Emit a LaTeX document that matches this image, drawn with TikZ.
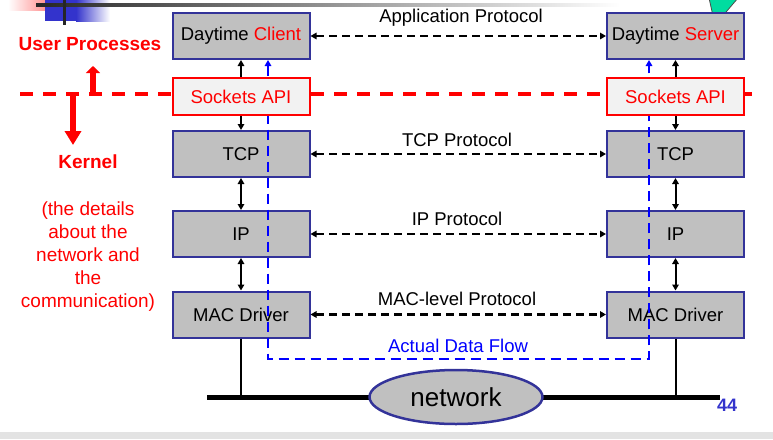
\documentclass[tikz,border=0pt]{standalone}
\usepackage{fontspec}
\setmainfont{Liberation Sans}
\usetikzlibrary{arrows.meta,shapes.geometric}
\definecolor{boxblue}{RGB}{51,51,153}
\definecolor{boxgray}{RGB}{192,192,192}
\definecolor{sockfill}{RGB}{242,242,242}
\definecolor{flowblue}{RGB}{0,0,255}
\definecolor{numblue}{RGB}{51,51,204}
\definecolor{decoblue}{RGB}{51,51,204}
\definecolor{decopink}{RGB}{255,140,140}
\definecolor{decogreen}{RGB}{0,220,160}
\begin{document}
\begin{tikzpicture}[x=1pt,y=-1pt,
  layerbox/.style={draw=boxblue, line width=2pt, fill=boxgray, minimum width=137pt, minimum height=46pt, inner sep=0pt, font=\fontsize{18.5}{20}\selectfont},
  sockbox/.style={draw=red, line width=2pt, fill=sockfill, minimum width=137pt, minimum height=37pt, inner sep=0pt, text=red, font=\fontsize{18.5}{20}\selectfont},
  protolabel/.style={font=\fontsize{18.5}{20}\selectfont, inner sep=0pt},
  redlabel/.style={text=red, font=\bfseries\fontsize{19}{21}\selectfont, inner sep=0pt},
  dasharrow/.style={line width=2.2pt, dash pattern=on 8pt off 5pt, {Triangle[length=6pt,width=6.5pt]}-{Triangle[length=6pt,width=6.5pt]}},
  vsingle/.style={line width=2pt, -{Triangle[length=6pt,width=6.5pt]}},
  vdouble/.style={line width=2pt, {Triangle[length=6pt,width=6.5pt]}-{Triangle[length=6pt,width=6.5pt]}},
  flowline/.style={draw=flowblue, line width=2.5pt, dash pattern=on 10pt off 6pt, {Triangle[length=6pt,width=6.5pt]}-{Triangle[length=6pt,width=6.5pt]}},
  reddash/.style={draw=red, line width=3.5pt, dash pattern=on 13pt off 10pt},
  busline/.style={line width=5pt},
  vline/.style={line width=2pt}
]
\useasboundingbox (0,0) rectangle (773,439);
% slide decorations
\fill[gray!22] (0,432) rectangle (773,439);
\shade[left color=white, right color=decopink] (8,0) rectangle (48,10);
\fill[decoblue] (45,0) rectangle (76,21);
\shade[left color=decoblue, right color=white] (76,0) rectangle (110,21);
\shade[left color=black!85, right color=white] (36,3) rectangle (620,6);
\fill[black!85] (62.5,0) rectangle (65.5,25);
\filldraw[fill=decogreen, draw=black!70, line width=0.8pt] (709,-2) -- (715,25) -- (738,-2) -- cycle;

% red dashed boundary, only outside the boxes
\coordinate (rd1) at (20,94);
\coordinate (rd2) at (171,94);
\coordinate (rd3) at (311,94);
\coordinate (rd4) at (606,94);
\coordinate (rd5) at (745,94);
\coordinate (rd6) at (752,94);
\draw[reddash] (rd1) -- (rd2);
\draw[reddash] (rd3) -- (rd4);
\draw[reddash, dash pattern=on 7pt off 1pt] (rd5) -- (rd6);

% layer boxes
\node[layerbox] (cl) at (241,36) {Daytime \textcolor{red}{Client}};
\node[layerbox] (tl) at (241,154) {TCP};
\node[layerbox] (il) at (241,234) {IP};
\node[layerbox] (ml) at (241,314.5) {MAC Driver};
\node[layerbox] (cr) at (675.5,36) {Daytime \textcolor{red}{Server}};
\node[layerbox] (tr) at (675.5,154) {TCP};
\node[layerbox] (ir) at (675.5,234) {IP};
\node[layerbox] (mr) at (675.5,314.5) {MAC Driver};

% actual data flow (passes over the layers, under the Sockets API boxes)
\coordinate (fb1) at (268,359);
\coordinate (fb2) at (649,359);
\draw[flowline] (fb1 |- cl.south) -- (fb1) -- (fb2) -- (fb2 |- cr.south);

% sockets boxes
\node[sockbox] (sl) at (241,96.5) {Sockets API};
\node[sockbox] (sr) at (675.5,96.5) {Sockets API};

% red arrows
\coordinate (upA) at (93,92);
\coordinate (upB) at (93,66);
\coordinate (dnA) at (73,93);
\coordinate (dnB) at (73,145);
\draw[draw=red, line width=6pt, -{Triangle[length=7pt,width=14pt]}, red] (upA) -- (upB);
\draw[draw=red, line width=6pt, -{Triangle[length=14pt,width=16pt]}, red] (dnA) -- (dnB);

% left labels
\node[redlabel] (up) at (90,44) {User Processes};
\node[redlabel] (kn) at (88,162) {Kernel};
\node[text=red, font=\fontsize{19}{23}\selectfont, align=center, inner sep=0pt] (det) at (88,257) {(the details\\about the\\network and\\the\\communication)};

% vertical arrows
\draw[vsingle] (sl.north) -- (cl.south);
\draw[vsingle] (sl.south) -- (tl.north);
\draw[vdouble] (tl.south) -- (il.north);
\draw[vdouble] (il.south) -- (ml.north);
\draw[vsingle] (sr.north) -- (cr.south);
\draw[vsingle] (sr.south) -- (tr.north);
\draw[vdouble] (tr.south) -- (ir.north);
\draw[vdouble] (ir.south) -- (mr.north);

% horizontal protocol arrows
\draw[dasharrow] (cl.east) -- (cr.west);
\draw[dasharrow] (tl.east) -- (tr.west);
\draw[dasharrow] (il.east) -- (ir.west);
\draw[dasharrow] (ml.east) -- (mr.west);
\node[protolabel] (apl) at (461,18) {Application Protocol};
\node[protolabel] (tpl) at (457,140) {TCP Protocol};
\node[protolabel] (ipl) at (457,219) {IP Protocol};
\node[protolabel] (mpl) at (457,299) {MAC-level Protocol};
\node[protolabel, text=flowblue] (adf) at (458,346) {Actual Data Flow};

% network bus
\coordinate (busL) at (207,397);
\coordinate (busR) at (720,397);
\draw[busline] (busL) -- (busR);
\draw[vline] (ml.south) -- (ml.south |- busL);
\draw[vline] (mr.south) -- (mr.south |- busR);
\node[ellipse, draw=boxblue, line width=2.5pt, fill=boxgray, minimum width=173pt, minimum height=54pt, inner sep=0pt, font=\fontsize{26}{28}\selectfont] (net) at (456,397) {network};
\node[text=numblue, font=\bfseries\fontsize{18}{20}\selectfont, inner sep=0pt] (pg) at (727,405) {44};
\end{tikzpicture}
\end{document}
